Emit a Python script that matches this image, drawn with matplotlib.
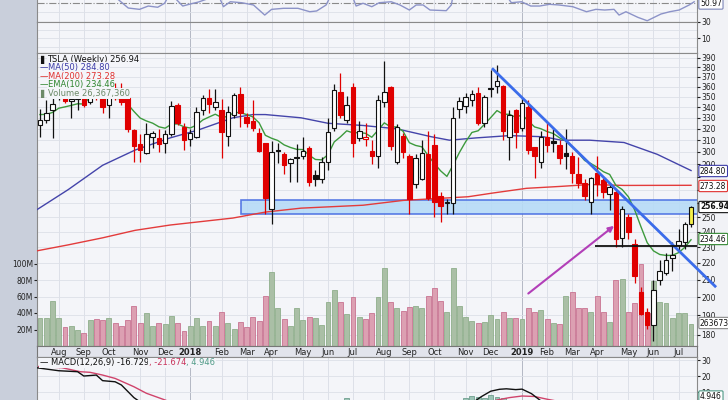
import numpy as np
import pandas as pd
import matplotlib
matplotlib.use("Agg")
import matplotlib.pyplot as plt
from matplotlib.patches import Rectangle
from matplotlib.ticker import NullLocator

# %%
# TSLA weekly candles, week of 2017-07-17 through week of 2019-07-15
first_week = "2017-07-17"
prior_close = 320.0

opens = [323, 328, 337, 350, 349, 346, 348, 349, 345, 378,
         349, 342, 359, 354, 349, 319, 307, 299, 313, 311.5,
         308, 315, 342, 322, 311, 313, 337, 349, 340, 337,
         314, 333, 353, 331, 327, 316, 308, 256, 302, 298,
         291, 296, 297, 303, 281, 278, 292, 321, 355, 328,
         360, 312, 311, 301, 297, 345, 360, 292, 314, 297,
         274, 278, 298, 306, 265, 260, 260, 338, 341, 347,
         354, 325, 359, 361, 361, 313, 337, 321, 340, 304,
         292, 313, 309, 306, 299, 297, 282, 275, 261, 283,
         277, 267, 268, 236, 250, 232, 203, 192, 185, 210,
         214, 223, 231, 233, 245]
highs = [338, 347, 358, 365, 352, 350, 352, 351, 384, 389,
         352, 352, 364, 364, 351, 320, 315, 325, 318, 320,
         319, 346, 344, 325, 320, 340, 352, 358, 358, 348,
         341, 354, 360, 334, 347, 321, 308, 309, 308, 300,
         295, 307, 313, 305, 285, 296, 330, 363, 374, 351,
         364, 327, 325, 310, 352, 387, 361, 324, 316, 298,
         298, 310, 318, 315, 268, 263, 340, 350, 354, 357,
         360, 352, 377, 382, 362, 337, 338, 349, 347, 304,
         318, 325, 320, 310, 320, 300, 296, 278, 280, 297,
         279, 275, 270, 258, 252, 235, 206, 194, 210, 222,
         226, 233, 242, 247, 258]
lows = [313, 325, 312, 347, 344, 330, 337, 340, 343, 347,
        334, 330, 347, 342, 317, 292, 292, 298, 303, 300,
        299, 314, 323, 302, 305, 312, 333, 334, 337, 295,
        305, 330, 322, 322, 318, 300, 252, 245, 291, 282,
        276, 276, 294, 273, 273, 275, 285, 318, 330, 325,
        296, 309, 305, 290, 287, 340, 302, 290, 295, 252,
        271, 277, 262, 250, 247, 252, 252, 330, 334, 341,
        323, 322, 350, 354, 310, 293, 303, 318, 298, 279,
        287, 300, 300, 290, 286, 275, 271, 262, 252, 265,
        264, 255, 230, 230, 235, 208, 190, 183, 177, 207,
        213, 215, 228, 229, 243]
closes = [328, 334, 343, 357, 346, 348, 350, 342, 380, 351,
          340, 350, 349, 345, 320, 305, 302, 315, 316, 307,
          315, 341, 325, 310, 316, 335, 349, 343, 345, 317,
          335, 352, 334, 325, 321, 301, 264, 300, 301, 289,
          294, 295, 301, 276, 278, 292, 317, 357, 333, 342,
          308, 318, 313, 297, 347, 355, 305, 322, 300, 263,
          295, 299, 264, 261, 258, 260.5, 330, 346, 350, 353,
          325, 350, 358, 366, 318, 333, 317, 344, 302, 297,
          313, 306, 308, 295, 297, 283, 275, 265, 279, 274,
          268, 272, 235, 256, 240, 212, 191, 185, 204, 215,
          222, 225, 234, 245, 257]
# weekly volume, millions of shares
volumes = [33.5, 34.5, 54.5, 33.5, 22.5, 24.6, 19, 15.8, 31.5, 32.2,
           32, 33.5, 27.5, 24.2, 31.5, 48.5, 27.5, 40.4, 24.6, 27.5,
           26.5, 36.6, 28, 18.2, 24.6, 33.5, 24.6, 29.8, 24.6, 41.5,
           28, 20.7, 28.8, 22.6, 35.5, 30.7, 60.3, 89.2, 45.8, 32.2,
           24.6, 45.8, 31.5, 35.5, 33.5, 25.5, 53.3, 67.9, 53.3, 38.8,
           59, 34.7, 32.7, 39.5, 60, 94, 53.3, 46, 42.4, 46.9,
           48.5, 45.6, 60.8, 70.8, 55, 40.9, 94, 48.7, 35.5, 30.7,
           28, 28.7, 37.4, 32.5, 41.5, 33.5, 33.5, 32.7, 45.6, 41.5,
           43.6, 32.7, 28.4, 26.7, 61, 66, 46, 46, 41, 61,
           41, 29.5, 80, 80.8, 41.6, 51.7, 100, 40.4, 79, 53.9,
           52.5, 34.5, 39.4, 39.4, 26.4]

# moving averages (week index, value)
ma50_wk = [-0.6, 4.5, 10, 15.2, 20.8, 25.3, 30.8, 34, 36, 41.7, 46, 51.6,
           57, 62.5, 65.4, 69.7, 75, 80.4, 83.3, 87.8, 93.3, 98.6, 104]
ma50_val = [255, 270, 289, 301.6, 312, 319, 330, 333, 333, 330, 325, 323,
            320, 313, 310, 312, 314, 313, 310, 310, 308, 298, 284.8]
ma200_wk = [-0.6, 4.5, 10, 15.2, 20.8, 30.8, 36, 41.7, 51.6, 58, 68.4,
            72.4, 77.7, 83.3, 87.8, 93.3, 104]
ma200_val = [227.5, 231.4, 236, 241, 244.6, 249.4, 253.6, 256.4, 258.5, 262,
             264.7, 267.5, 271, 272.5, 273.9, 273.2, 273.3]
ema_seed = 333.0

# RSI (top strip)
rsi_wk = [-0.6, 6, 11, 12.2, 14.1, 15.9, 17.3, 18.8, 19.9, 20.8, 22.8, 24.0,
          25.3, 28.5, 29.3, 30.4, 32.2, 34.1, 35.9, 37.0, 38.9, 41.2, 43.1,
          44.2, 45.7, 46.5, 49.7, 50.5, 51.6, 53.0, 54.2, 56.1, 57.5, 59.0,
          60.1, 61.2, 62.3, 64.9, 65.7, 66.0, 74.2, 75.3, 76.9, 78.4, 79.8,
          81.4, 82.9, 85.1, 87.3, 88.8, 90.2, 91.7, 92.5, 93.6, 95.5, 97.0,
          97.8, 99.2, 100.6, 102.1, 103.7, 104.5]
rsi_val = [62, 62, 60, 55, 44.4, 43, 46.5, 45.2, 49.4, 60, 46.5, 48.6,
           50.7, 58, 45.8, 51, 50, 47.6, 37, 43, 44.1, 44.1, 40.5,
           41.3, 47.6, 58, 60, 46.5, 49.4, 45.8, 50, 51, 47.6, 42.3,
           47.6, 47.6, 42.3, 41.6, 47.6, 58, 60, 50, 51, 46.5, 46.5,
           48.3, 47.6, 45.8, 40.5, 43, 42.3, 43, 37, 40.5, 34.6, 31,
           33.6, 38.1, 40.5, 42.3, 47.6, 50.97]

# MACD(12,26,9)
macd_wk = [-0.6, 3, 6, 7, 9, 10, 12, 13, 15, 17, 25, 40, 49, 55, 62, 67,
           69, 70.5, 72, 73.4, 74.5, 76, 77, 78.5, 80, 82, 95, 104]
macd_val = [25.2, 23.3, 22.7, 20, 20.6, 17.1, 16.4, 14.4, 6.5, 1, -3, -5, 2,
            4, -3, -2, 3, 7.1, 10.5, 11.7, 12, 11.5, 11.8, 9, 4.5, 1, -10, -16.7]
signal_wk = [-0.6, 3.5, 6.4, 8, 10, 12, 15, 17, 19.7, 22, 40, 60, 70, 73,
             75, 77, 79, 81, 83, 104]
signal_val = [26, 25.2, 22.7, 22.3, 20.6, 18.5, 13.3, 9.2, 5.4, 2, -5, -3,
              1, 5, 6.5, 7.5, 7.2, 5.5, 4, -21.7]
hist_wk = [49, 68, 69, 70, 71, 72, 73, 74]
hist_val = [6.1, 6.1, 7.5, 7.1, 6.1, 8, 7.1, 6.0]

# drawn-on annotations (week index, price)
zone_start, zone_low, zone_high = 32.1, 252.2, 262.3
trend_wk, trend_px = [72.2, 108], [379, 205.6]
arrow_from, arrow_to = (78.0, 202), (91.7, 244)
support_start, support_level = 88.7, 230.5

# %%
W, H = 728, 400
L, R = 37, 697
step = 6.26
xlim = ((L - 40) / step, (R - 40) / step)

def fx(px):
    return px / W

def fy(py):
    return 1 - py / H

plt.rcParams['font.family'] = ['DejaVu Sans']
BG = '#f4f5f9'
GRID = '#dde0e8'
SPINE = '#8a8a8a'

weeks = pd.date_range(first_week, periods=len(closes), freq="W-MON")
x = np.arange(len(closes))
o, hi, lo, c = (np.array(v, float) for v in (opens, highs, lows, closes))
prev = np.r_[prior_close, c[:-1]]
up = c >= prev
hollow = c >= o

ema = [ema_seed]
for v in c[1:]:
    ema.append(ema[-1] + 2 / 11 * (v - ema[-1]))

month_idx = [i for i in range(1, len(weeks)) if weeks[i].month != weeks[i - 1].month]
year_idx = [i for i in month_idx if weeks[i].month == 1]

fig = plt.figure(figsize=(W / 100, H / 100), dpi=100)
fig.patch.set_facecolor('#c9cfdb')
fig.add_artist(Rectangle((fx(R), 0), 1 - fx(R), 1, transform=fig.transFigure,
                         fc='#f1f2f6', ec='none', zorder=0))

def panel(top, bottom):
    a = fig.add_axes([fx(L), fy(bottom), fx(R - L), (bottom - top) / H])
    a.set_facecolor(BG)
    a.set_xlim(*xlim)
    for s in a.spines.values():
        s.set_color(SPINE)
        s.set_linewidth(0.8)
    a.set_xticks([])
    for i in month_idx:
        a.axvline(i, color='#b4b8c4' if i in year_idx else GRID, lw=0.7, zorder=0)
    a.tick_params(axis='y', labelsize=5.5, length=2, pad=1, colors='#222222')
    return a

# RSI strip
ax_rsi = panel(-20, 21.7)
ax_rsi.set_ylim(30, 73.9)
ax_rsi.axhline(50, color='#8a8a8a', lw=0.8, ls='-.', zorder=1)
ax_rsi.axhline(40, color=GRID, lw=0.6, zorder=0)
ax_rsi.plot(rsi_wk, rsi_val, color='#8c93c8', lw=1.0, zorder=2)
ax_rsi.set_yticks([])

ax_p2 = panel(21.7, 53.3)
ax_p2.set_ylim(-8, 30)
ax_p2.yaxis.tick_right()
ax_p2.set_yticks([30, 10])
for v in (20, 10, 0):
    ax_p2.axhline(v, color=GRID, lw=0.6, zorder=0)

# volume behind the price panel
ax_vol = panel(53.3, 346)
ax_vol.set_ylim(0, 292.7 / 0.825)
ax_vol.yaxis.tick_left()
ax_vol.set_yticks([20, 40, 60, 80, 100])
ax_vol.set_yticklabels(['20M', '40M', '60M', '80M', '100M'])
ymin, ymax = 174.46, 395.15
levels = list(range(180, 400, 10))
for p in levels:
    ax_vol.axhline(np.log(p / ymin) / np.log(ymax / ymin) * 292.7 / 0.825,
                   color=GRID, lw=0.6, zorder=0)
ax_vol.bar(x, volumes, width=0.78,
           color=np.where(up, '#aabfa6', '#dca0b2'),
           edgecolor=np.where(up, '#8fae8b', '#c87391'), lw=0.6, zorder=1)

ax = fig.add_axes(ax_vol.get_position())
ax.set_zorder(ax_vol.get_zorder() + 1)
ax.patch.set_visible(False)
for s in ax.spines.values():
    s.set_visible(False)
ax.set_xlim(*xlim)
ax.set_xticks([])
ax.set_yscale('log')
ax.set_ylim(ymin, ymax)
ax.yaxis.tick_right()
ax.yaxis.set_minor_locator(NullLocator())
ax.set_yticks(levels)
# labels that sit under the value tags are left blank, as on the source chart
ax.set_yticklabels(['' if p in (260, 270, 280) else str(p) for p in levels])
ax.tick_params(axis='y', labelsize=5.5, length=2, pad=1, colors='#222222')

ax.add_patch(Rectangle((zone_start, zone_low), xlim[1] - zone_start + 1,
                       zone_high - zone_low, fc='#b6dbf7', ec='#4a6fe3',
                       lw=1.2, alpha=0.9, zorder=1, clip_on=True))
ax.plot(ma50_wk, ma50_val, color='#4444aa', lw=1.0, zorder=2)
ax.plot(ma200_wk, ma200_val, color='#e33b3b', lw=1.0, zorder=2)
ax.plot(x, ema, color='#3d9a3d', lw=1.0, zorder=2)

edge = np.where(up, '#111111', '#e00000')
face = np.where(hollow, 'white', edge)
face[-1] = '#f4f04a'
ax.vlines(x, lo, hi, colors=edge, lw=0.9, zorder=3)
ax.bar(x, np.maximum(np.abs(c - o), 0.6), bottom=np.minimum(o, c), width=0.72,
       color=face, edgecolor=edge, lw=0.8, zorder=4)

ax.plot(trend_wk, trend_px, color='#3b6cea', lw=2.0, zorder=5,
        clip_on=False, solid_capstyle='butt')
ax.hlines(support_level, support_start, xlim[1], color='#111111', lw=1.3, zorder=5)
ax.annotate('', xy=arrow_to, xytext=arrow_from, zorder=5,
            arrowprops=dict(arrowstyle='-|>', color='#b23fb8', lw=1.5,
                            mutation_scale=8, shrinkA=0, shrinkB=0))

# month labels
ax_band = fig.add_axes([fx(L), fy(357.3), fx(R - L), 11.3 / H])
ax_band.set_facecolor('#e2e4ec')
ax_band.set_xlim(*xlim)
ax_band.set_ylim(0, 1)
ax_band.set_xticks([])
ax_band.set_yticks([])
for s in ax_band.spines.values():
    s.set_color('#777777')
    s.set_linewidth(0.8)
for i in month_idx:
    lab = str(weeks[i].year) if weeks[i].month == 1 else weeks[i].strftime('%b')
    ax_band.text(i, 0.45, lab, ha='center', va='center', fontsize=6,
                 fontweight='bold' if weeks[i].month == 1 else 'normal',
                 color='#222222')

# MACD
ax_macd = panel(357.3, 420)
ax_macd.set_ylim(-7.5, 31.7)
ax_macd.yaxis.tick_right()
ax_macd.set_yticks([30, 20, 10])
for v in (30, 20, 10):
    ax_macd.axhline(v, color=GRID, lw=0.6, zorder=0)
ax_macd.bar(hist_wk, hist_val, width=0.78, color='#9cc4b6',
            edgecolor='#6f9f8f', lw=0.6, zorder=1)
ax_macd.plot(signal_wk, signal_val, color='#d0436b', lw=1.0, zorder=2)
ax_macd.plot(macd_wk, macd_val, color='#111111', lw=1.0, zorder=3)
box = dict(fc=BG, ec='none', pad=0.3)
t1 = ax_macd.text(0.004, 1 - 5.7 / 62.7, '\u2014 MACD(12,26,9) -16.729',
                  transform=ax_macd.transAxes, fontsize=6, va='center',
                  color='#111111', bbox=box, zorder=6)
t2 = ax_macd.annotate(', -21.674', xycoords=t1, xy=(1, 0), va='bottom',
                      fontsize=6, color='#c8325a', bbox=box, zorder=6)
ax_macd.annotate(', 4.946', xycoords=t2, xy=(1, 0), va='bottom',
                 fontsize=6, color='#4f9a86', bbox=box, zorder=6)

# legend of the price panel
rows = [('TSLA (Weekly) 256.94', '#111111', 59),
        ('MA(50) 284.80', '#3b3ba8', 67.7),
        ('MA(200) 273.28', '#e0302e', 76.2),
        ('EMA(10) 234.46', '#2f862f', 84.8),
        ('Volume 26,367,360', '#6c8a68', 93.3)]
for k, (txt, col, py) in enumerate(rows):
    fig.text(fx(47.5), fy(py), txt, fontsize=6, color=col, va='center',
             ha='left', bbox=dict(fc=BG, ec='none', pad=0.6), zorder=10)
    icon = '\u2014' if 1 <= k <= 3 else '\u258c'
    fig.text(fx(40), fy(py), icon, fontsize=6, color=col, va='center',
             ha='left', zorder=10)

# value tags on the right axis
tags = [('50.97', 3.5, '#7d86b8', 'normal'),
        ('284.80', 171, '#3b3ba8', 'normal'),
        ('273.28', 186, '#e0302e', 'normal'),
        ('256.94', 207, '#111111', 'bold'),
        ('234.46', 239, '#2f862f', 'normal'),
        ('263673', 323, '#888888', 'normal'),
        ('4.946', 396.5, '#4f9a86', 'normal')]
for txt, py, col, wt in tags:
    fig.text(fx(700), fy(py), txt, fontsize=5.5, fontweight=wt, va='center',
             ha='left', color='#111111', zorder=10,
             bbox=dict(boxstyle='round,pad=0.15', fc='white', ec=col, lw=0.8))

fig.savefig('out.png', dpi=100, facecolor=fig.get_facecolor())
